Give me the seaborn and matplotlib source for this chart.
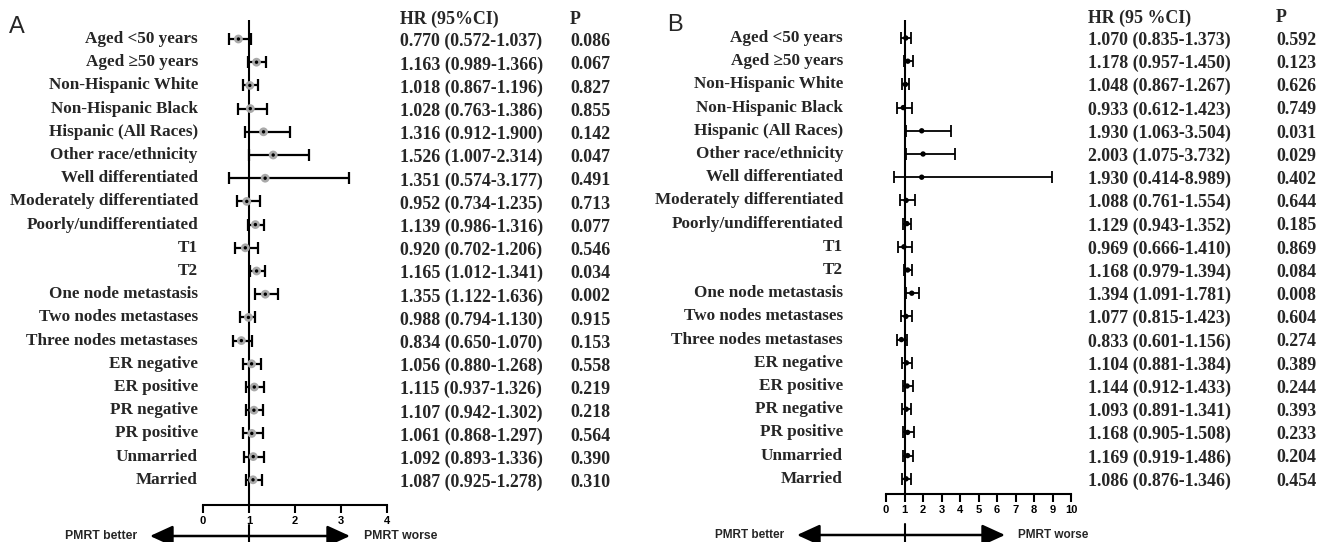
import numpy as np
import pandas as pd
import matplotlib
matplotlib.use("Agg")
import matplotlib.pyplot as plt
import seaborn as sns
from matplotlib.transforms import blended_transform_factory as btf

# ---------------- data ----------------
labels = ["Aged <50 years", "Aged \u226550 years", "Non-Hispanic White", "Non-Hispanic Black",
          "Hispanic (All Races)", "Other race/ethnicity", "Well differentiated",
          "Moderately differentiated", "Poorly/undifferentiated", "T1", "T2",
          "One node metastasis", "Two nodes metastases", "Three nodes metastases",
          "ER negative", "ER positive", "PR negative", "PR positive", "Unmarried", "Married"]

hr_a = [0.770, 1.163, 1.018, 1.028, 1.316, 1.526, 1.351, 0.952, 1.139, 0.920,
        1.165, 1.355, 0.988, 0.834, 1.056, 1.115, 1.107, 1.061, 1.092, 1.087]
lo_a = [0.572, 0.989, 0.867, 0.763, 0.912, 1.007, 0.574, 0.734, 0.986, 0.702,
        1.012, 1.122, 0.794, 0.650, 0.880, 0.937, 0.942, 0.868, 0.893, 0.925]
hi_a = [1.037, 1.366, 1.196, 1.386, 1.900, 2.314, 3.177, 1.235, 1.316, 1.206,
        1.341, 1.636, 1.130, 1.070, 1.268, 1.326, 1.302, 1.297, 1.336, 1.278]
p_a = ["0.086", "0.067", "0.827", "0.855", "0.142", "0.047", "0.491", "0.713", "0.077", "0.546",
       "0.034", "0.002", "0.915", "0.153", "0.558", "0.219", "0.218", "0.564", "0.390", "0.310"]

hr_b = [1.070, 1.178, 1.048, 0.933, 1.930, 2.003, 1.930, 1.088, 1.129, 0.969,
        1.168, 1.394, 1.077, 0.833, 1.104, 1.144, 1.093, 1.168, 1.169, 1.086]
lo_b = [0.835, 0.957, 0.867, 0.612, 1.063, 1.075, 0.414, 0.761, 0.943, 0.666,
        0.979, 1.091, 0.815, 0.601, 0.881, 0.912, 0.891, 0.905, 0.919, 0.876]
hi_b = [1.373, 1.450, 1.267, 1.423, 3.504, 3.732, 8.989, 1.554, 1.352, 1.410,
        1.394, 1.781, 1.423, 1.156, 1.384, 1.433, 1.341, 1.508, 1.486, 1.346]
p_b = ["0.592", "0.123", "0.626", "0.749", "0.031", "0.029", "0.402", "0.644", "0.185", "0.869",
       "0.084", "0.008", "0.604", "0.274", "0.389", "0.244", "0.393", "0.233", "0.204", "0.454"]

ticks_a = [0, 1, 2, 3, 4]
ticks_b = list(range(0, 11))

# ---------------- style ----------------
sns.set_style("ticks")
plt.rcParams['font.family'] = ['Liberation Serif', 'DejaVu Serif']

W, H = 1322, 542
fig = plt.figure(figsize=(W / 100, H / 100), dpi=100)

LABEL_FS = 12.3
TABLE_FS = 12.9


def fx(px):
    return px / W


def fy(py):
    return 1 - py / H


def panel(letter, letter_xy, hr, lo, hi, pv, ticks, xmax, left, right, top, bottom,
          row0, step, label_right, hr_x, p_x, header_hr, header_y, text_off,
          arrow_y, arrow_l, arrow_r, better_right, worse_left, arrow_fs, tick_fs, style):
    ax = fig.add_axes([fx(left), fy(bottom), (right - left) / W, (bottom - top) / H])
    df = pd.DataFrame({"label": labels, "hr": hr, "lo": lo, "hi": hi,
                       "row": np.arange(len(labels))})
    ax.set_xlim(0, xmax)
    ax.set_ylim((bottom - row0) / step, (top - row0) / step)

    ax.axvline(1, color="black", lw=1.5, zorder=1)
    err = [df["hr"] - df["lo"], df["hi"] - df["hr"]]
    if style == "A":
        ax.errorbar(df["hr"], df["row"], xerr=err, fmt="none", ecolor="black",
                    elinewidth=1.6, capsize=4.2, capthick=1.6, zorder=2)
        sns.scatterplot(data=df, x="hr", y="row", ax=ax, s=40, color="#a9a9a9",
                        edgecolor="none", zorder=3, legend=False)
        sns.scatterplot(data=df, x="hr", y="row", ax=ax, s=6, color="black",
                        edgecolor="none", zorder=4, legend=False)
    else:
        ax.errorbar(df["hr"], df["row"], xerr=err, fmt="none", ecolor="black",
                    elinewidth=1.3, capsize=4.0, capthick=1.3, zorder=2)
        sns.scatterplot(data=df, x="hr", y="row", ax=ax, s=15, color="black",
                        edgecolor="none", zorder=4, legend=False)

    for s in ["top", "right", "left"]:
        ax.spines[s].set_visible(False)
    ax.spines["bottom"].set_linewidth(1.5)
    ax.spines["bottom"].set_color("black")
    ax.set_xticks(ticks)
    ax.set_xticklabels([str(t) for t in ticks], fontfamily="Liberation Sans",
                       fontweight="bold", fontsize=tick_fs)
    ax.tick_params(axis="x", direction="out", length=6, width=1.5, pad=2, colors="black")
    ax.tick_params(axis="y", left=False, labelleft=False)
    ax.set_xlabel("")
    ax.set_ylabel("")
    ax.grid(False)

    tr = btf(fig.transFigure, ax.transData)
    for i, row in df.iterrows():
        ax.text(fx(label_right), row["row"], row["label"], transform=tr, ha="right",
                va="center", fontsize=LABEL_FS, fontweight="bold", clip_on=False)
        ax.text(fx(hr_x), row["row"] + text_off,
                f"{row['hr']:.3f} ({row['lo']:.3f}-{row['hi']:.3f})", transform=tr,
                ha="left", va="center", fontsize=TABLE_FS, fontweight="bold", clip_on=False)
        ax.text(fx(p_x), row["row"] + text_off, pv[i], transform=tr, ha="left",
                va="center", fontsize=TABLE_FS, fontweight="bold", clip_on=False)
    hy = (header_y - row0) / step
    ax.text(fx(hr_x), hy, header_hr, transform=tr, ha="left", va="center",
            fontsize=TABLE_FS, fontweight="bold", clip_on=False)
    ax.text(fx(p_x), hy, "P", transform=tr, ha="left", va="center",
            fontsize=TABLE_FS, fontweight="bold", clip_on=False)

    # vertical reference tick across the arrow
    trv = btf(ax.transData, fig.transFigure)
    ax.plot([1, 1], [fy(arrow_y - 11), 0], color="black", lw=1.5, transform=trv,
            clip_on=False)
    # arrows
    cx = ax.transData.transform((1, 0))[0]
    for end in (arrow_l, arrow_r):
        ax.annotate("", xy=(end, H - arrow_y), xycoords="figure pixels",
                    xytext=(cx, H - arrow_y), textcoords="figure pixels",
                    arrowprops=dict(arrowstyle="-|>,head_length=0.7,head_width=0.32",
                                    mutation_scale=20, lw=1.8, color="black",
                                    shrinkA=0, shrinkB=0))
    fig.text(fx(better_right), fy(arrow_y), "PMRT better", ha="right", va="center",
             fontfamily="Liberation Sans", fontweight="bold", fontsize=arrow_fs)
    fig.text(fx(worse_left), fy(arrow_y), "PMRT worse", ha="left", va="center",
             fontfamily="Liberation Sans", fontweight="bold", fontsize=arrow_fs)
    fig.text(fx(letter_xy[0]), fy(letter_xy[1]), letter, ha="left", va="center",
             fontfamily="Liberation Sans", fontsize=17)
    return ax


panel("A", (9, 27), hr_a, lo_a, hi_a, p_a, ticks_a, 4,
      left=203, right=387, top=20, bottom=505, row0=39, step=23.2,
      label_right=198, hr_x=400, p_x=570, header_hr="HR (95%CI)", header_y=19,
      text_off=0.12, arrow_y=536, arrow_l=150, arrow_r=350,
      better_right=137, worse_left=364, arrow_fs=8.8, tick_fs=8, style="A")

panel("B", (667, 25), hr_b, lo_b, hi_b, p_b, ticks_b, 10,
      left=886, right=1071, top=20, bottom=494, row0=38, step=23.2,
      label_right=843, hr_x=1088, p_x=1276, header_hr="HR (95 %CI)", header_y=18,
      text_off=0.1, arrow_y=535, arrow_l=797, arrow_r=1005,
      better_right=784, worse_left=1018, arrow_fs=8.5, tick_fs=8, style="B")

fig.savefig("out.png", dpi=100)
